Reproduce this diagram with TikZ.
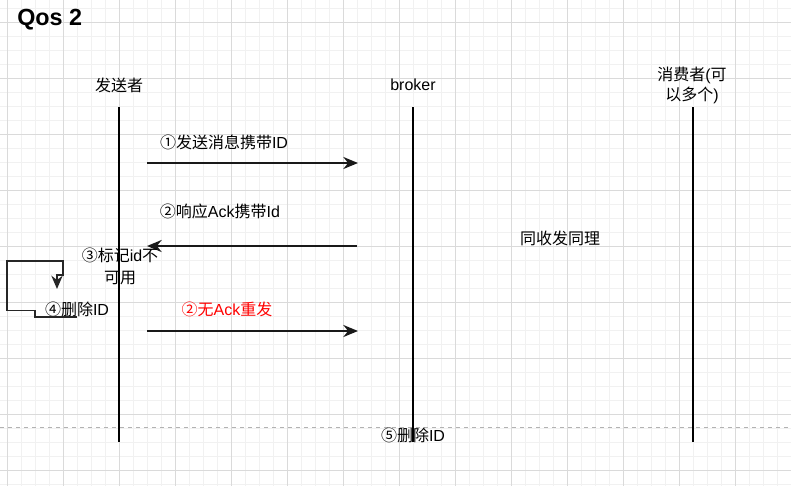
\documentclass[tikz,border=0pt]{standalone}
\usepackage{fontspec}
\setmainfont{Liberation Sans}
\newfontfamily\cjk{Noto Sans CJK SC}
\usepackage{tikz}
\usetikzlibrary{arrows.meta,calc,positioning}

\definecolor{gridminor}{HTML}{F1F1F1}
\definecolor{gridmajor}{HTML}{DADADA}
\definecolor{msgred}{HTML}{FF0000}

\tikzset{
  lbl/.style={inner sep=0pt, align=center, font=\fontsize{12}{15}\selectfont},
  lifeline/.style={line width=1pt, black},
  msg/.style={line width=1.6pt, draw=black!90, -{Stealth[length=11pt,width=9pt]}},
  loopline/.style={line width=1.3pt, draw=black!85},
}

\begin{document}
\begin{tikzpicture}[x=0.75pt, y=-0.75pt]
        \useasboundingbox (0,0) rectangle (791,486);
        \clip (0,0) rectangle (791,486);
        % background grid
        \foreach \k in {0,...,55}
          \draw[gridminor, line width=0.5pt] (7.3+14*\k,0) -- (7.3+14*\k,486);
        \foreach \k in {0,...,34}
          \draw[gridminor, line width=0.5pt] (0,8.3+14*\k) -- (791,8.3+14*\k);
        \foreach \k in {0,...,13}
          \draw[gridmajor, line width=0.6pt] (7.3+56*\k,0) -- (7.3+56*\k,486);
        \foreach \k in {0,...,8}
          \draw[gridmajor, line width=0.6pt] (0,22.3+56*\k) -- (791,22.3+56*\k);
        % page break
        \draw[gray!60, dashed, line width=0.6pt] (0,427) -- (791,427);

        % title
        \node[anchor=west, inner sep=0pt, font=\fontsize{17.5}{20}\bfseries] (title) at (17,20) {Qos 2};

        % participants
        \node[lbl] (sender) at (119,85) {\cjk 发送者};
        \node[lbl] (broker) at (413,85) {broker};
        \node[lbl] (consumer) at (692,85) {{\cjk 消费者}({\cjk 可}\\{\cjk 以多个})};

        % lifelines
        \coordinate (senderTop) at (119,107);
        \coordinate (senderBot) at (119,442);
        \coordinate (brokerTop) at (413,107);
        \coordinate (brokerBot) at (413,442);
        \coordinate (consumerTop) at (693,107);
        \coordinate (consumerBot) at (693,442);
        \draw[lifeline] (senderTop) -- (senderBot);
        \draw[lifeline] (brokerTop) -- (brokerBot);
        \draw[lifeline] (consumerTop) -- (consumerBot);

        % messages
        \coordinate (pubS) at (147,163);
        \coordinate (pubE) at (358,163);
        \draw[msg] (pubS) -- (pubE);
        \node[lbl] (pubLbl) at (224,142) {{\cjk ①发送消息携带}ID};

        \coordinate (ackS) at (357,246);
        \coordinate (ackE) at (147,246);
        \draw[msg] (ackS) -- (ackE);
        \node[lbl] (ackLbl) at (220,211) {{\cjk ②响应}Ack{\cjk 携带}Id};

        \coordinate (resendS) at (147,331);
        \coordinate (resendE) at (358,331);
        \draw[msg] (resendS) -- (resendE);
        \node[lbl, text=msgred] (resendLbl) at (227,309) {{\cjk ②无}Ack{\cjk 重发}};

        % local steps on the sender
        \node[lbl, font=\fontsize{12}{17}\selectfont] (markLbl) at (120,266.5) {{\cjk ③标记}id{\cjk 不}\\{\cjk 可用}};
        \node[lbl] (delLbl) at (77,309) {{\cjk ④删除}ID};
        \coordinate (loopS) at (77,316.7);
        \coordinate (loopE) at (57,289);
        \draw[loopline, -{Stealth[length=10pt,width=8.5pt]}]
          (loopS) -- (35,316.7) -- (35,310.5) -- (7.3,310.5) -- (7.3,261)
          -- (63.3,261) -- (63.3,275) -- (57,275) -- (loopE);

        \node[lbl] (sameLbl) at (560,238) {\cjk 同收发同理};
        \node[lbl] (del5Lbl) at (413,435) {{\cjk ⑤删除}ID};
      \end{tikzpicture}
\end{document}
